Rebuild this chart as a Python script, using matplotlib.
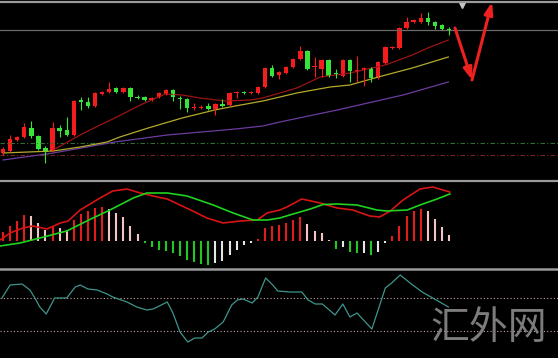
import matplotlib
matplotlib.use('Agg')
import matplotlib.pyplot as plt
from matplotlib.lines import Line2D
import numpy as np

# ---------------- data ----------------
opens  = [27,29,40,43,52,44,32,29,52,50,45,80,78,74,86,88,92,88,92,83,83,80,83,86,90,82,81,72.5,72.5,74,
          71,76,75,87,88,87,87,93,112,105,107,113,121,129,113,111,120,107,104,120,109.5,110,112,102,117,132,
          132,152,158,158,162,158,155,151]
highs  = [33,45,44,57,59,45,34,58,55,63,80,83,83,88,89,98,93,93,93,85,84,83,88,91,91,84,82,77,75,77,
          77,81,88,89,89,89,94,113,115,109,114,122,134,130,123,121,121,111,121,121,124,113,113,119,134,134,
          153,163,161,167,168,159,156,153]
lows   = [25,28,39,42,42,30,17,28,43,44,44,70,72,73,85,87,87,87,79,81,79,79,82,85,79,71,68,70,71,70,
          65,73,74,82,86,86,86,92,103,101,106,112,120,110,103,103,103,102,103,98,98,94,98,101,116,131,
          131,151,157,157,155,151,150,145]
closes = [31,41,43,53,44,31,28,52,49,45,79,78,74,87,88,91,88,92,83,82,80,82,87,90,83,81,72,73,73.5,71,
          76,74,87,88,87,88,93,112,104,108,113,121,129,111,114,120,104,106,120,109,110,112,102,118,133,133,
          152,158,160,162,158,154,151,150]

ma_fast_idx = [7.1,10.9,13.7,16.1,19.4,22.9,25.3,27.8,31.4,34.9,36.7,41.5,44.8,49.0,54.0,57.8,60.0,62.9]
ma_fast     = [30,45,55,63,75,86,85,82,79,80,82,92,103,107,115,125,132,140]
ma_mid_idx  = [0,7.1,10.9,14.7,16.5,20.5,25.3,29.9,32.8,36.7,41.5,46.2,49.0,53.0,57.8,62.9]
ma_mid      = [27,29,33,38,43,52,62,70,74,79,87,93,95,103,112,123]
ma_slow_idx = [0,7.1,15.8,23.2,32.8,36.7,39.1,47.2,56.5,62.9]
ma_slow     = [20,27,38,45,51,54,58,70,85,98]

support_level = 37
resist_level = 25
price_line = 150

macd_hist = [9,15,20,26,25,18,11,14,13,11,21,27,30,33,34,32,28,24,15,7,
             -1.5,-6,-9,-10,-12,-15,-19,-21,-23,-24,-22,-20,-14,-9,-4,-1.5,2.5,13,15,16,
             18,21,24,17,10,8,1,-8,-6,-11,-12,-11.5,-14,-11,-2,5,15,25,30,32,
             30,22,14,6]
macd_idx  = [-0.42,1.0,2.8,4.2,6.2,8.1,9.2,10.9,12.3,13.7,15.5,17.5,19.4,21.8,23.2,25.0,26.8,28.8,31.1,
             33.5,35.9,37.3,39.1,40.1,42.2,44.8,47.2,49.4,51.8,53.2,54.7,56.5,58.9,60.7,63.1]
macd_line = [1,8,13,15,12,18,20,31,37,43,50,52,48,44,42,36,30,23,18,
             20,21,28,31,34,42,38,33,31,25,24,30,41,52,54,49]
signal_idx  = [-0.42,2.4,5.2,9.0,12.7,15.1,18.4,20.3,23.2,26.0,29.7,32.5,35.3,37.3,39.1,40.5,43.4,45.2,
               47.2,50.0,52.8,54.2,57.1,58.9,61.3,63.1]
signal_line = [-5,-2,3,10,23,31,43,48,48,45,36,28,21,21,23,26,32,36.5,37,36,31,30,31,36,42,47]

osc_idx = [-0.14,1.0,2.7,3.8,4.5,5.2,6.1,7.3,9.0,10.2,10.9,12.0,13.3,14.7,15.5,17.5,18.9,20.3,21.2,23.2,
           24.0,25.0,26.1,27.1,28.1,29.0,29.9,31.1,32.3,33.1,33.9,35.2,36.0,37.1,38.1,38.8,40.5,42.2,43.1,
           44.1,45.1,46.9,48.0,49.0,50.0,52.1,54.0,54.9,56.1,57.5,59.2,60.7,61.7,62.9]
osc_val = [60,73,74,68,60,51,44,60,60,71,73,69,68,64,61,56,51,48,49,56,
           45,26,16,20,20,26,29,36,53,58,59,55,61,80,73,67,66,66,58,
           54,54,43,54,41,45,29,70,75,83,75,66,60,56,51]
osc_levels = [60, 27]

forecast_offset = [0.84, 3.24, 6.07]
forecast_price = [152, 100, 178]

watermark = '汇外网'

# ---------------- figure ----------------
W, H = 558, 358
fig = plt.figure(figsize=(W / 100, H / 100), dpi=100, facecolor='black')

def px_axes(top, bottom):
    ax = fig.add_axes([0, 1 - bottom / H, 1, (bottom - top) / H])
    ax.set_axis_off()
    return ax

step = 7.08
xlim = (-3 / step, (W - 3) / step)

ax1 = px_axes(3, 179.5)
ax2 = px_axes(181.5, 267.5)
ax3 = px_axes(269.5, 358)
for ax in (ax1, ax2, ax3):
    ax.set_xlim(*xlim)
ax1.set_ylim(0.5, 177)
ax2.set_ylim(-26.5, 59.5)
ax3.set_ylim(0, 88.5)

# separators
for ypx, lw in [(2.2, 1.6), (180.5, 1.6), (268.5, 1.8)]:
    fig.add_artist(Line2D([0, 1], [1 - ypx / H] * 2, transform=fig.transFigure,
                          color='#9a9a9a', lw=lw))

# main panel reference lines
ax1.axhline(price_line, color='#6a6a6a', lw=0.9)
ax1.axhline(support_level, color='#2f6f2f', lw=0.8, ls=(0, (4, 2, 1, 2)))
ax1.axhline(resist_level, color='#7a2424', lw=0.8, ls=(0, (4, 2, 1, 2)))

# moving averages
ax1.plot(ma_slow_idx, ma_slow, color='#6b3c9e', lw=0.9)
ax1.plot(ma_mid_idx, ma_mid, color='#b4aa2a', lw=0.9)
ax1.plot(ma_fast_idx, ma_fast, color='#9a1414', lw=0.9)

# candles
n = len(closes)
idx = np.arange(n)
up_c, dn_c = '#f41c1c', '#38e438'
for i in idx:
    o, h, l, c = opens[i], highs[i], lows[i], closes[i]
    col = up_c if c >= o else dn_c
    ax1.vlines(i, l, h, color=col, lw=0.8)
    body = max(abs(c - o), 0.9)
    ax1.bar(i, body, bottom=min(o, c) - (0.45 if abs(c - o) < 0.9 else 0), width=0.62,
            color=col, linewidth=0)

# chart shift marker
ax1.plot(n + 0.8, 175, marker='v', ms=5, color='#c4c4c4', clip_on=False, ls='none')

# forecast arrows
pts = [(n - 1 + dx, p) for dx, p in zip(forecast_offset, forecast_price)]
for a, b in zip(pts[:-1], pts[1:]):
    ax1.annotate('', xy=b, xytext=a, annotation_clip=False,
                 arrowprops=dict(arrowstyle='-|>,head_length=0.7,head_width=0.25',
                                 color='#ee2020', lw=2.2, shrinkA=0, shrinkB=0))

# MACD histogram
cols = []
for i, v in enumerate(macd_hist):
    prev = macd_hist[i - 1] if i > 0 else v - 1
    if v >= 0:
        cols.append('#e21c1c' if v >= prev else '#f2c4c4')
    else:
        cols.append('#22c822' if v < prev else '#e6e6e6')
ax2.vlines(idx, 0, macd_hist, colors=cols, lw=1.5)
ax2.plot(macd_idx, macd_line, color='#d81414', lw=1.2)
ax2.plot(signal_idx, signal_line, color='#1ed21e', lw=1.2)

# oscillator
for lv in osc_levels:
    ax3.axhline(lv, color='#c8a4a4', lw=0.8, ls=(0, (1, 2)))
ax3.plot(osc_idx, osc_val, color='#3f958c', lw=0.9)

# watermark
fig.text(489 / W, 1 - 328 / H, watermark, color='#7c7c7c', fontsize=28,
         family=['Noto Sans CJK SC', 'DejaVu Sans'], weight='light',
         ha='center', va='center')

fig.savefig('out.png', dpi=100, facecolor='black')
